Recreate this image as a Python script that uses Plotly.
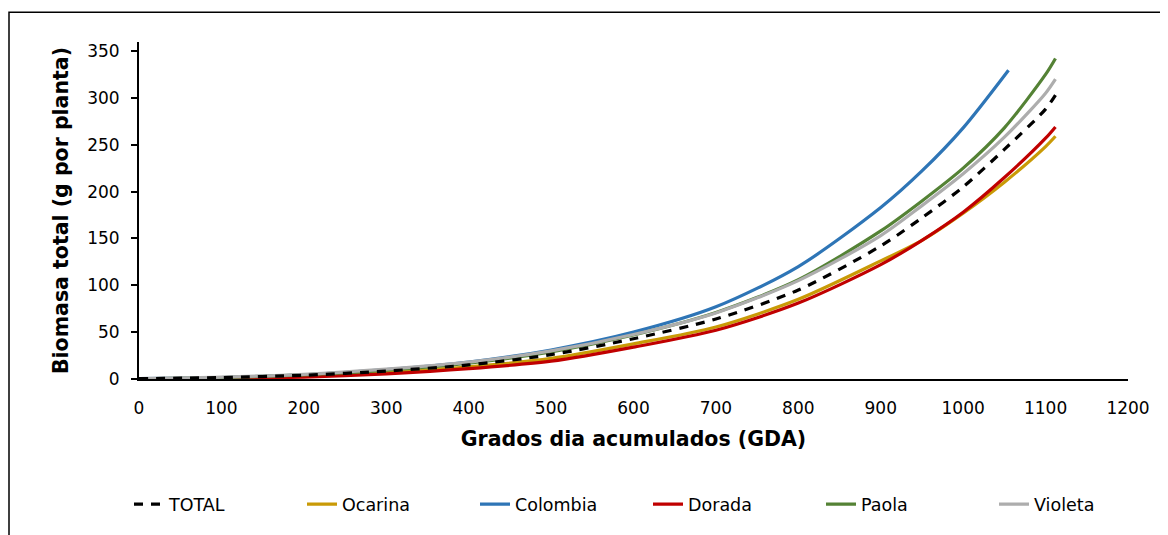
import plotly.graph_objects as go

# ---- data ----
gda = [0, 100, 200, 300, 400, 500, 600, 700, 800, 900, 950, 1000, 1050, 1100, 1112]
gda_colombia = [0, 100, 200, 300, 400, 500, 600, 700, 800, 900, 950, 1000, 1055]

total = [0.3, 1.5, 4, 8.5, 15, 26, 43, 64, 95, 142, 172, 205, 245, 288, 303]
ocarina = [0.2, 1, 3, 7, 13, 22, 37.5, 55.5, 85, 126, 148, 177, 210, 248, 259]
colombia = [0.5, 1.5, 4.5, 10, 18, 31, 50, 77, 120, 183, 222, 268, 329.5]
dorada = [0, 0.5, 2, 5.5, 11, 19, 34, 52, 81, 122, 148, 178, 215, 257, 269]
paola = [0.3, 1.5, 4.5, 9.5, 17, 29, 47, 71, 106, 158, 190, 225, 268, 325, 342]
violeta = [0.5, 2, 5, 10.5, 18, 30, 47.5, 70.5, 105, 153, 185, 219, 258, 305, 320]

x_ticks = [0, 100, 200, 300, 400, 500, 600, 700, 800, 900, 1000, 1100, 1200]
y_ticks = [0, 50, 100, 150, 200, 250, 300, 350]

FONT = "DejaVu Sans, Liberation Sans, Arial, sans-serif"

series = [
    ("Ocarina", gda, ocarina, "#C99A06", "solid", 2),
    ("Colombia", gda_colombia, colombia, "#2E75B6", "solid", 3),
    ("Dorada", gda, dorada, "#C00000", "solid", 4),
    ("Paola", gda, paola, "#548235", "solid", 5),
    ("Violeta", gda, violeta, "#ADADAD", "solid", 6),
    ("TOTAL", gda, total, "#000000", "9px,8px", 1),
]

fig = go.Figure()
for name, xs, ys, color, dash, rank in series:
    fig.add_trace(go.Scatter(
        x=xs, y=ys, name=name, mode="lines",
        line=dict(color=color, width=3.2, dash=dash, shape="spline", smoothing=0.8),
        legendrank=rank,
    ))

# the page places the figure 8px from the top-left corner
W, H = 1160, 527
L, R, T, B = 131, 40, 33.7, 155.5
pw, ph = W - L - R, H - T - B

def px_to_paper_x(px):
    return (px - L) / pw

def px_to_paper_y(py):
    return (H - B - py) / ph

fig.update_layout(
    width=W, height=H,
    margin=dict(l=L, r=R, t=T, b=B, pad=0, autoexpand=False),
    paper_bgcolor="white", plot_bgcolor="white",
    font=dict(family=FONT, size=17, color="#000000"),
    showlegend=True,
    legend=dict(
        orientation="h", xref="paper", yref="paper",
        x=px_to_paper_x(121), xanchor="left", y=px_to_paper_y(497), yanchor="middle",
        font=dict(size=17.5), entrywidth=128, entrywidthmode="pixels",
        traceorder="normal", bgcolor="rgba(0,0,0,0)",
    ),
    xaxis=dict(
        range=[0, 1200], tickvals=x_ticks, ticktext=[str(v) for v in x_ticks],
        showgrid=False, zeroline=False, showline=True, linecolor="#000000", linewidth=2,
        ticks="", tickfont=dict(size=17), ticklabelstandoff=13,
        title=dict(text="<b>Grados dia acumulados (GDA)</b>", font=dict(size=20.5), standoff=14),
        fixedrange=True,
    ),
    yaxis=dict(
        range=[0, 359.6], tickvals=y_ticks, ticktext=[str(v) for v in y_ticks],
        showgrid=False, zeroline=False, showline=True, linecolor="#000000", linewidth=2,
        ticks="outside", ticklen=6, tickwidth=1.5, tickcolor="#000000", tickfont=dict(size=17),
        ticklabelstandoff=8,
        title=dict(text="<b>Biomasa total (g por planta)</b>", font=dict(size=20.5), standoff=13),
        fixedrange=True,
    ),
    shapes=[dict(
        type="rect", xref="paper", yref="paper",
        x0=px_to_paper_x(1), x1=px_to_paper_x(1175),
        y0=px_to_paper_y(545), y1=px_to_paper_y(4),
        line=dict(color="#000000", width=1.5), fillcolor="rgba(0,0,0,0)", layer="below",
    )],
)

fig.write_html("out.html")
